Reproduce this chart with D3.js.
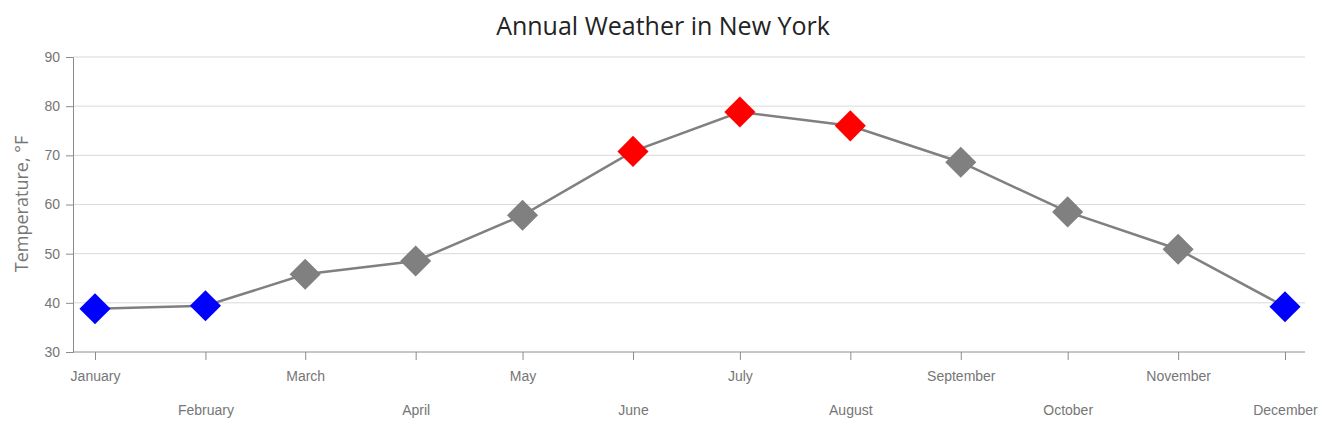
<!DOCTYPE html>
<html><head><meta charset="utf-8">
<script src="https://cdn.jsdelivr.net/npm/d3@7"></script>
<style>body{margin:0;background:#fff;}svg{display:block;font-family:"Open Sans","Noto Sans",sans-serif;}</style>
</head><body><svg id="c" width="1335" height="431"></svg>
<script>
const months = ["January","February","March","April","May","June","July","August","September","October","November","December"];
const monthDates = ["2017-01-01","2017-02-01","2017-03-01","2017-04-01","2017-05-01","2017-06-01","2017-07-01","2017-08-01","2017-09-01","2017-10-01","2017-11-01","2017-12-01"];
const temps = [38.8, 39.4, 45.8, 48.5, 57.8, 70.8, 78.8, 76.0, 68.6, 58.5, 50.9, 39.2];
const yTicks = [30, 40, 50, 60, 70, 80, 90];
const coldLimit = 40, hotLimit = 70;
const colors = {cold: "#0000ff", hot: "#ff0000", normal: "#808080"};

const parse = d3.utcParse("%Y-%m-%d");
const dates = monthDates.map(parse);

const svg = d3.select("#c");
const W = 1335, H = 431;
const plotL = 73, plotR = 1305, plotT = 57, plotB = 352;
const x = d3.scaleUtc().domain([dates[0], dates[dates.length - 1]]).range([95, 1285]);
const y = d3.scaleLinear().domain([30, 90]).range([plotB, plotT]);

svg.append("text").attr("x", 663).attr("y", 35).attr("text-anchor", "middle")
  .attr("font-size", 25).attr("fill", "#232323").text("Annual Weather in New York");

// grid
svg.append("g").selectAll("line").data(yTicks.slice(1)).join("line")
  .attr("x1", plotL).attr("x2", plotR).attr("y1", d => y(d)).attr("y2", d => y(d))
  .attr("stroke", "#d9d9d9").attr("stroke-width", 1);

// y axis
const ya = svg.append("g").attr("transform", `translate(${plotL},0)`)
  .call(d3.axisLeft(y).tickValues(yTicks).tickSize(7).tickPadding(6));
ya.select(".domain").attr("stroke", "#8c8c8c");
ya.selectAll(".tick line").attr("stroke", "#8c8c8c");
ya.selectAll("text").attr("font-size", 14).attr("fill", "#767676").attr("font-family", "inherit");

// x axis
const xa = svg.append("g").attr("transform", `translate(0,${plotB})`)
  .call(d3.axisBottom(x).tickValues(dates).tickFormat((d, i) => months[i]).tickSize(8).tickSizeOuter(0));
xa.select(".domain").attr("stroke", "#8c8c8c").attr("d", `M${plotL},0H${plotR}`);
xa.selectAll(".tick line").attr("stroke", "#8c8c8c");
xa.selectAll("text").attr("font-size", 14).attr("fill", "#767676").attr("font-family", "inherit")
  .attr("y", (d, i) => i % 2 === 0 ? 19 : 53).attr("dy", "0.71em");

svg.append("text").attr("transform", `translate(28,204) rotate(-90)`).attr("text-anchor", "middle")
  .attr("font-size", 18).attr("fill", "#767676").text("Temperature, °F");

const data = dates.map((d, i) => ({d, v: temps[i]}));
svg.append("path").datum(data)
  .attr("d", d3.line().x(p => x(p.d)).y(p => y(p.v)))
  .attr("fill", "none").attr("stroke", "#808080").attr("stroke-width", 2.5);

svg.append("g").selectAll("path").data(data).join("path")
  .attr("d", d3.symbol(d3.symbolSquare, 484))
  .attr("transform", p => `translate(${x(p.d)},${y(p.v)}) rotate(45)`)
  .attr("fill", p => p.v < coldLimit ? colors.cold : p.v > hotLimit ? colors.hot : colors.normal);
</script></body></html>
